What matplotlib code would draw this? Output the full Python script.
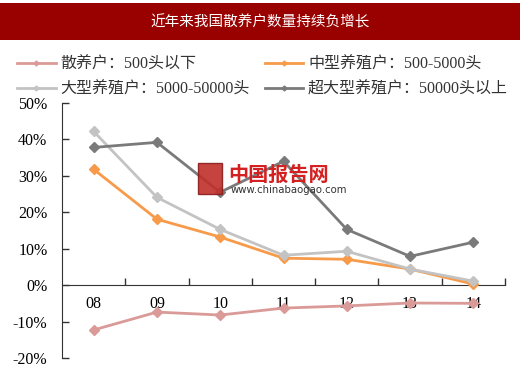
import matplotlib
matplotlib.use("Agg")
import matplotlib.pyplot as plt
from matplotlib.patches import Rectangle

plt.rcParams['font.family'] = ['Liberation Serif', 'Noto Sans CJK SC', 'DejaVu Sans']

title = "近年来我国散养户数量持续负增长"
years = ["08", "09", "10", "11", "12", "13", "14"]
small_farms = [-12.3, -7.4, -8.2, -6.3, -5.7, -4.9, -5.0]
medium_farms = [31.8, 18.1, 13.2, 7.4, 7.1, 4.4, 0.3]
large_farms = [42.2, 24.1, 15.3, 8.2, 9.3, 4.4, 1.1]
xlarge_farms = [37.8, 39.2, 25.5, 34.0, 15.3, 7.9, 11.8]
labels = ["散养户：500头以下", "中型养殖户：500-5000头",
          "大型养殖户：5000-50000头", "超大型养殖户：50000头以上"]
colors = ["#DA9A98", "#F79A4A", "#C3C3C3", "#7A7A7A"]
yticks = [-20, -10, 0, 10, 20, 30, 40, 50]

fig = plt.figure(figsize=(5.2, 3.68), dpi=100)

# title banner
fig.patches.append(Rectangle((0, 1 - 40/368), 1, 37/368, transform=fig.transFigure,
                             facecolor="#990000", edgecolor="none", zorder=0))
fig.text(0.5, 1 - 22/368, title, color="white", ha="center", va="center",
         fontsize=10.5, family=['Noto Sans CJK SC'])

ax = fig.add_axes([62/520, 1 - 358/368, (505 - 62)/520, (358 - 103)/368])
x = list(range(len(years)))
series = [small_farms, medium_farms, large_farms, xlarge_farms]
handles = []
for s, c, lab in zip(series, colors, labels):
    h, = ax.plot(x, s, color=c, lw=2.0, marker="D", ms=5, label=lab, zorder=3)
    handles.append(h)

ax.set_xlim(-0.5, 6.5)
ax.set_ylim(-20, 50)
ax.set_yticks(yticks)
ax.set_yticklabels([f"{v}%" for v in yticks], fontsize=11.5)
ax.tick_params(axis='y', direction='in', length=5, width=1, pad=10.5, color="#333333")
for sp in ["top", "right"]:
    ax.spines[sp].set_visible(False)
ax.spines["left"].set_color("#333333")
ax.spines["bottom"].set_position(("data", 0))
ax.spines["bottom"].set_color("#333333")
ax.set_xticks(x)
ax.set_xticklabels(years, fontsize=11.5)
ax.set_xticks([i + 0.5 for i in range(len(years))], minor=True)
ax.tick_params(axis='x', which='major', length=0, pad=8)
ax.tick_params(axis='x', which='minor', direction='in', length=5, width=1, color="#333333")

# legend (column-wise fill: col1 = small, large; col2 = medium, xlarge)
order = [0, 2, 1, 3]
leg = fig.legend(handles=[handles[i] for i in order],
                 loc="upper left", bbox_to_anchor=(14/520, 1 - 53/368), ncol=2,
                 frameon=False, fontsize=11.5, handlelength=2.4, handletextpad=0.3,
                 columnspacing=0.95, labelspacing=0.6, markerscale=0.5,
                 borderaxespad=0, borderpad=0.2)
for t in leg.get_texts():
    t.set_color("#333333")

# watermark
fig.patches.append(Rectangle((198/520, 1 - 194/368), 24/520, 31/368, transform=fig.transFigure,
                             facecolor="#C0302A", edgecolor="#8B1A1A", alpha=0.9, zorder=5))
fig.text(228/520, 1 - 174/368, "中国报告网", color="#D42020", fontsize=14.5, fontweight="bold",
         family=['Noto Sans CJK SC'], va="center", ha="left", zorder=6)
fig.text(231/520, 1 - 190/368, "www.chinabaogao.com", color="#333333", fontsize=7.3,
         family=['DejaVu Sans'], va="center", ha="left", zorder=6)

fig.savefig("out.png", dpi=100, facecolor="white")
